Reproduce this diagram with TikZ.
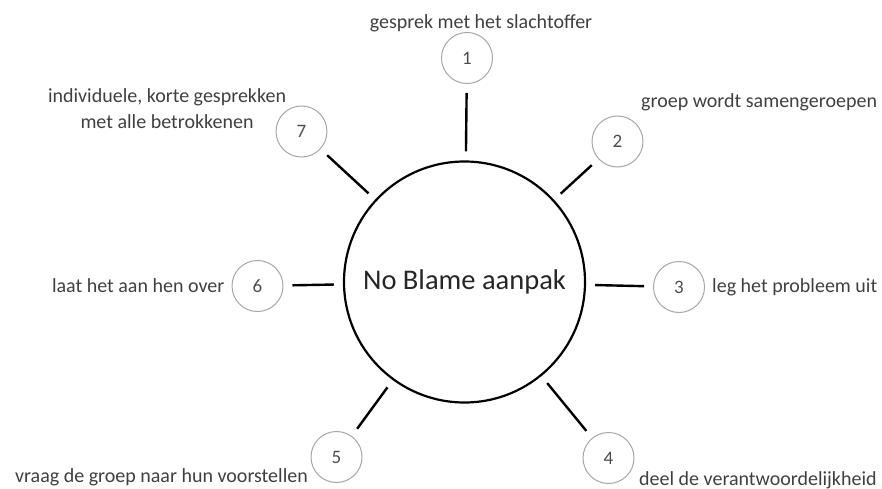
\documentclass[tikz,border=0pt]{standalone}
\usepackage{fontspec}
\setmainfont{Carlito}
\usepackage{tikz}
\usetikzlibrary{positioning}

\begin{document}
\begin{tikzpicture}[x=1pt,y=-1pt,
  hub/.style={circle, draw=black, line width=2.2pt, minimum size=241pt, inner sep=0pt, font=\fontsize{28.5}{32}\selectfont, text=black!85},
  num/.style={circle, draw=black!35, line width=1pt, minimum size=51pt, inner sep=0pt, font=\fontsize{19}{22}\selectfont, text=black!70},
  lbl/.style={inner sep=0pt, font=\fontsize{20}{26}\selectfont, text=black!75, align=center},
  spoke/.style={line width=2.4pt, shorten <=9pt, shorten >=9pt}]

\useasboundingbox (0,0) rectangle (882,489);

\node[hub] (main) at (464.5,282) {No Blame aanpak};

\node[num] (n1) at (467,58) {1};
\node[num] (n2) at (617.5,141.5) {2};
\node[num] (n3) at (679,287) {3};
\node[num] (n4) at (608.5,458) {4};
\node[num] (n5) at (336.5,457) {5};
\node[num] (n6) at (257.5,286) {6};
\node[num] (n7) at (301.5,131.5) {7};

\foreach \i in {1,...,7}
  \draw[spoke] (main) -- (n\i);

\node[lbl] (l1) at (481,23) {gesprek met het slachtoffer};
\node[lbl, anchor=west] (l2) at (641,102) {groep wordt samengeroepen};
\node[lbl, right=7pt of n3] (l3) {leg het probleem uit};
\node[lbl, anchor=west] (l4) at (639,480) {deel de verantwoordelijkheid};
\node[lbl, anchor=east] (l5) at (308,477) {vraag de groep naar hun voorstellen};
\node[lbl, left=7pt of n6] (l6) {laat het aan hen over};
\node[lbl] (l7) at (167,109) {individuele, korte gesprekken\\met alle betrokkenen};
\end{tikzpicture}
\end{document}
